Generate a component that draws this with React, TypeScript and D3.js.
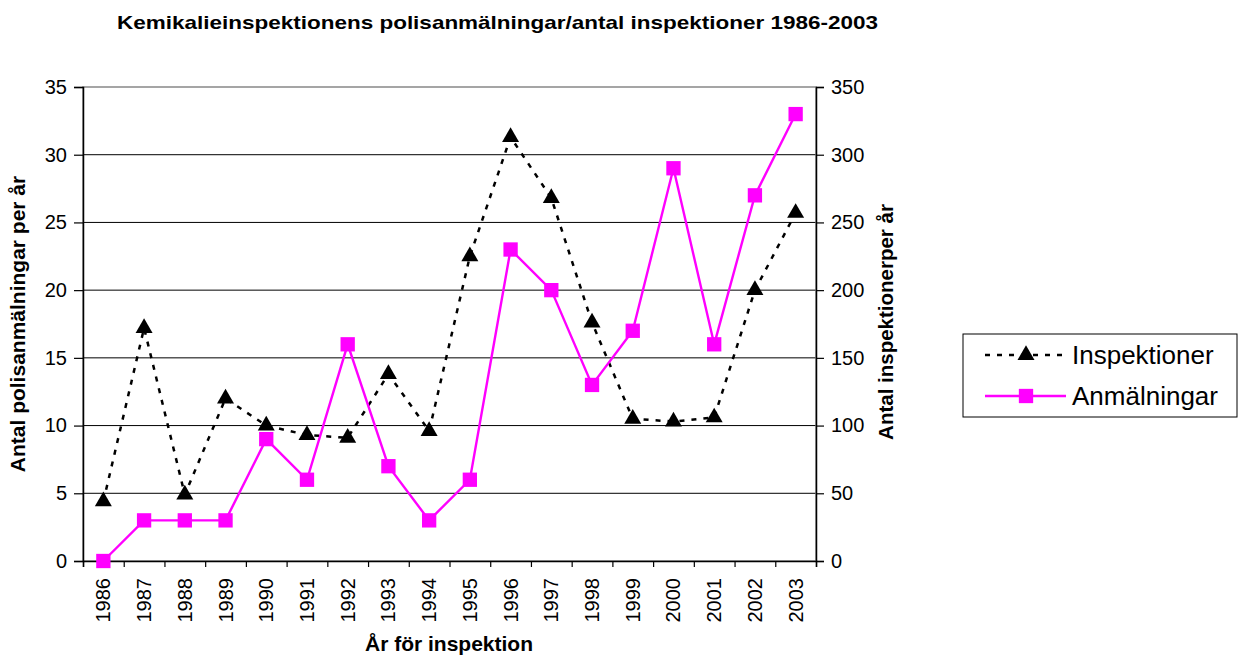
import { useEffect, useRef } from 'react';
import * as d3 from 'd3';

const years = ['1986', '1987', '1988', '1989', '1990', '1991', '1992', '1993', '1994', '1995', '1996', '1997', '1998', '1999', '2000', '2001', '2002', '2003'];
const inspektioner = [44, 172, 49, 120, 100, 93, 91, 138, 96, 225, 313, 268, 176, 105, 103, 106, 200, 257];
const anmalningar = [0, 3, 3, 3, 9, 6, 16, 7, 3, 6, 23, 20, 13, 17, 29, 16, 27, 33];
const leftTicks = [0, 5, 10, 15, 20, 25, 30, 35];
const rightTicks = [0, 50, 100, 150, 200, 250, 300, 350];

const FONT = 'Liberation Sans, Arial, sans-serif';
const MAGENTA = '#ff00ff';

const App = () => {
  const ref = useRef<SVGSVGElement>(null);

  useEffect(() => {
    const svg = d3.select(ref.current);
    svg.selectAll('*').remove();

    const left = 83, right = 816, top = 87, bottom = 561;

    const x = d3.scaleBand().domain(years).range([left, right]);
    const yL = d3.scaleLinear().domain([0, 35]).range([bottom, top]);
    const yR = d3.scaleLinear().domain([0, 350]).range([bottom, top]);
    const cx = (d: string) => (x(d) as number) + x.bandwidth() / 2;

    // title
    svg.append('text')
      .attr('x', 117).attr('y', 29)
      .attr('textLength', 761).attr('lengthAdjust', 'spacingAndGlyphs')
      .attr('font-family', FONT).attr('font-size', 19).attr('font-weight', 'bold')
      .text('Kemikalieinspektionens polisanmälningar/antal inspektioner 1986-2003');

    // gridlines
    svg.append('g').selectAll('line').data(leftTicks.slice(1, -1)).enter().append('line')
      .attr('x1', left).attr('x2', right)
      .attr('y1', (d) => yL(d)).attr('y2', (d) => yL(d))
      .attr('stroke', '#000').attr('stroke-width', 1);

    // plot border
    svg.append('rect')
      .attr('x', left).attr('y', top).attr('width', right - left).attr('height', bottom - top)
      .attr('fill', 'none').attr('stroke', '#888').attr('stroke-width', 1.5);

    // left axis
    const gL = svg.append('g').attr('transform', `translate(${left},0)`)
      .call(d3.axisLeft(yL).tickValues(leftTicks).tickSize(9).tickPadding(7));
    // right axis
    const gR = svg.append('g').attr('transform', `translate(${right},0)`)
      .call(d3.axisRight(yR).tickValues(rightTicks).tickSize(8).tickPadding(7));
    // bottom axis
    const xEdges = d3.scaleLinear().domain([0, years.length]).range([left, right]);
    const gB = svg.append('g').attr('transform', `translate(0,${bottom})`)
      .call(d3.axisBottom(xEdges).tickValues(d3.range(years.length + 1)).tickSize(6).tickFormat(() => ''));

    [gL, gR, gB].forEach((g) => {
      g.select('.domain').attr('stroke', '#000').attr('stroke-width', 1.5);
      g.selectAll('.tick line').attr('stroke', '#000').attr('stroke-width', 1.2);
      g.selectAll('text').attr('font-family', FONT).attr('font-size', 20).attr('fill', '#000');
    });

    // year labels
    svg.append('g').selectAll('text').data(years).enter().append('text')
      .attr('transform', (d) => `translate(${cx(d) + 7},${bottom + 17}) rotate(-90)`)
      .attr('text-anchor', 'end')
      .attr('font-family', FONT).attr('font-size', 20)
      .text((d) => d);

    // axis titles
    svg.append('text')
      .attr('transform', `translate(25,${(top + bottom) / 2}) rotate(-90)`)
      .attr('text-anchor', 'middle')
      .attr('font-family', FONT).attr('font-size', 21).attr('font-weight', 'bold')
      .text('Antal polisanmälningar per år');
    svg.append('text')
      .attr('transform', `translate(893,322) rotate(-90)`)
      .attr('text-anchor', 'middle')
      .attr('font-family', FONT).attr('font-size', 20.5).attr('font-weight', 'bold')
      .text('Antal inspektionerper år');
    svg.append('text')
      .attr('x', 449).attr('y', 651)
      .attr('text-anchor', 'middle')
      .attr('font-family', FONT).attr('font-size', 21).attr('font-weight', 'bold')
      .text('År för inspektion');

    const tri = d3.symbol().type(d3.symbolTriangle).size(125);
    const sq = d3.symbol().type(d3.symbolSquare).size(205);

    // inspektioner
    const lineI = d3.line<number>().x((_, i) => cx(years[i])).y((d) => yR(d));
    svg.append('path').datum(inspektioner)
      .attr('d', lineI).attr('fill', 'none')
      .attr('stroke', '#000').attr('stroke-width', 2.5).attr('stroke-dasharray', '5,7');
    svg.append('g').selectAll('path').data(inspektioner).enter().append('path')
      .attr('d', tri)
      .attr('transform', (d, i) => `translate(${cx(years[i])},${yR(d)})`)
      .attr('fill', '#000');

    // anmalningar
    const lineA = d3.line<number>().x((_, i) => cx(years[i])).y((d) => yL(d));
    svg.append('path').datum(anmalningar)
      .attr('d', lineA).attr('fill', 'none')
      .attr('stroke', MAGENTA).attr('stroke-width', 2.4);
    svg.append('g').selectAll('path').data(anmalningar).enter().append('path')
      .attr('d', sq)
      .attr('transform', (d, i) => `translate(${cx(years[i])},${yL(d)})`)
      .attr('fill', MAGENTA);

    // legend
    const lg = svg.append('g');
    lg.append('rect').attr('x', 963).attr('y', 334).attr('width', 274).attr('height', 83)
      .attr('fill', '#fff').attr('stroke', '#000').attr('stroke-width', 1);
    lg.append('line').attr('x1', 985).attr('x2', 1066).attr('y1', 355).attr('y2', 355)
      .attr('stroke', '#000').attr('stroke-width', 2.5).attr('stroke-dasharray', '5,7');
    lg.append('path').attr('d', tri).attr('transform', 'translate(1026,355)').attr('fill', '#000');
    lg.append('line').attr('x1', 985).attr('x2', 1066).attr('y1', 396).attr('y2', 396)
      .attr('stroke', MAGENTA).attr('stroke-width', 2.4);
    lg.append('path').attr('d', sq).attr('transform', 'translate(1026,396)').attr('fill', MAGENTA);
    lg.append('text').attr('x', 1072).attr('y', 364)
      .attr('font-family', FONT).attr('font-size', 26).text('Inspektioner');
    lg.append('text').attr('x', 1072).attr('y', 405)
      .attr('font-family', FONT).attr('font-size', 26).text('Anmälningar');
  }, []);

  return (
    <svg ref={ref} width={1242} height={657} style={{ position: 'absolute', left: 0, top: 0, background: '#fff' }}></svg>
  );
};

export default App;
